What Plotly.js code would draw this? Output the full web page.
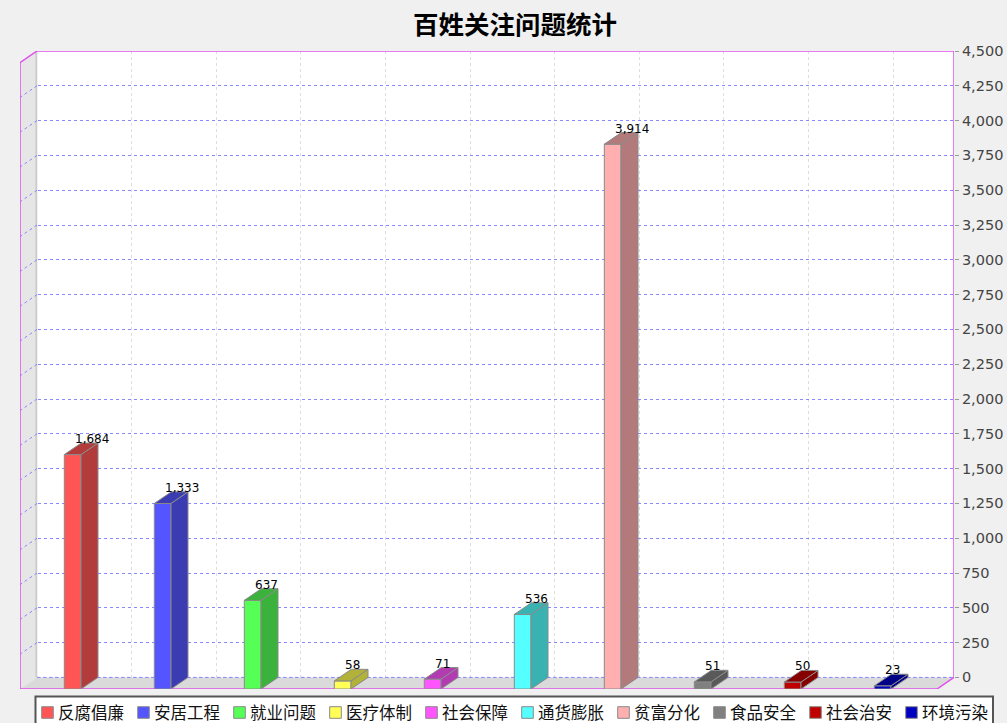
<!DOCTYPE html>
<html><head><meta charset="utf-8">
<script src="https://cdn.plot.ly/plotly-3.0.1.min.js"></script>
<style>html,body{margin:0;padding:0;background:#f0f0f0;}#chart{width:1007px;height:723px;}</style>
</head><body><div id="chart"></div>
<script>
// ---------- data ----------
const categories = ['反腐倡廉','安居工程','就业问题','医疗体制','社会保障','通货膨胀','贫富分化','食品安全','社会治安','环境污染'];
const values = [1684, 1333, 637, 58, 71, 536, 3914, 51, 50, 23];
const frontColors = ['#ff5555','#5555ff','#55ff55','#ffff55','#ff55ff','#55ffff','#ffafaf','#808080','#c00000','#0000c0'];
const sideColors  = ['#b23b3b','#3b3bb2','#3bb23b','#b2b23b','#b23bb2','#3bb2b2','#b27a7a','#595959','#860000','#000086'];
const yTickVals = [0,250,500,750,1000,1250,1500,1750,2000,2250,2500,2750,3000,3250,3500,3750,4000,4250,4500];
const yTickText = yTickVals.map(v => v.toLocaleString('en-US'));
const chartTitle = '百姓关注问题统计';

// ---------- geometry ----------
const W = 1007, H = 723;
const M = {l: 20, r: 53, t: 51, b: 34};
const plotW = W - M.l - M.r, plotH = H - M.t - M.b;
const CAT_PX = 90, FIRST_PX = 52.65;
const xr0 = -FIRST_PX / CAT_PX, xr1 = xr0 + plotW / CAT_PX;
const DX_PX = 17, DY_PX = 11.6;
const YTOP = 4500;
const valPerPx = YTOP / (plotH - DY_PX);
const dY = DY_PX * valPerPx;
const YMAX = YTOP + dY;
const D = DX_PX / CAT_PX;
const BW = 16.7 / CAT_PX;
const px2x = px => (px - M.l) / plotW;
const py2y = py => (M.t + plotH - py) / plotH;

const paperBg = '#f0f0f0';
const outline = '#e050ec';
const gridBlue = '#8888ff';

// ---------- traces ----------
const traces = categories.map((c, i) => ({
  type: 'bar', name: c, x: [i], y: [values[i]], width: BW,
  marker: {color: frontColors[i], line: {color: '#8a8a8a', width: 1}},
  showlegend: false, hoverinfo: 'skip'
}));
traces.push({type: 'scatter', x: [0], y: [0], xaxis: 'x2', yaxis: 'y2', mode: 'markers',
  marker: {opacity: 0}, hoverinfo: 'skip', showlegend: false});

// ---------- shapes ----------
const shapes = [];
const poly = pts => 'M' + pts.map(p => p[0] + ',' + p[1]).join('L') + 'Z';
// left wall
shapes.push({type: 'path', layer: 'between', xref: 'x', yref: 'y',
  path: poly([[xr0, 0], [xr0, YTOP], [xr0 + D, YMAX], [xr0 + D, dY]]),
  fillcolor: '#e6e6e6', line: {width: 0}});
shapes.push({type: 'line', layer: 'between', xref: 'x', yref: 'y',
  x0: xr0 + D - 0.008, x1: xr0 + D - 0.008, y0: dY, y1: YMAX, line: {color: '#cdcdcd', width: 2}});
// floor
shapes.push({type: 'path', layer: 'between', xref: 'x', yref: 'y',
  path: poly([[xr0, 0], [xr0 + D, dY], [xr1, dY], [xr1 - D, 0]]),
  fillcolor: '#dadada', line: {width: 0}});
// wall gridlines (diagonal)
yTickVals.forEach(v => {
  if (v === 0 || v === YTOP) return;
  shapes.push({type: 'line', layer: 'between', xref: 'x', yref: 'y',
    x0: xr0 + D, y0: v + dY, x1: xr0, y1: v, line: {color: gridBlue, width: 1, dash: '3px,3px'}});
});
shapes.push({type: 'line', layer: 'between', xref: 'x', yref: 'y',
  x0: xr0 + D, y0: dY, x1: xr1, y1: dY, line: {color: gridBlue, width: 1, dash: '3px,3px'}});
// corner triangles (background)
shapes.push({type: 'path', layer: 'between', xref: 'x', yref: 'y',
  path: poly([[xr0, YMAX], [xr0 + D, YMAX], [xr0, YTOP]]), fillcolor: paperBg, line: {width: 0}});
shapes.push({type: 'path', layer: 'between', xref: 'x', yref: 'y',
  path: poly([[xr1, 0], [xr1 - D, 0], [xr1, dY]]), fillcolor: paperBg, line: {width: 0}});
// outline
shapes.push({type: 'path', layer: 'between', xref: 'x', yref: 'y',
  path: poly([[xr0, 0], [xr0, YTOP], [xr0 + D, YMAX], [xr1, YMAX], [xr1, dY], [xr1 - D, 0]]),
  line: {color: outline, width: 1.5}});
// bar side + top faces
values.forEach((v, i) => {
  const a = i - BW / 2, b = i + BW / 2;
  shapes.push({type: 'path', layer: 'above', xref: 'x', yref: 'y',
    path: poly([[b, 0], [b + D, dY], [b + D, v + dY], [b, v]]),
    fillcolor: sideColors[i], line: {color: '#8a8a8a', width: 1}});
  shapes.push({type: 'path', layer: 'above', xref: 'x', yref: 'y',
    path: poly([[a, v], [b, v], [b + D, v + dY], [a + D, v + dY]]),
    fillcolor: sideColors[i], line: {color: '#8a8a8a', width: 1}});
});

// ---------- annotations (value labels) ----------
const annotations = values.map((v, i) => ({
  xref: 'x', yref: 'y', x: i + 0.005, y: v + dY,
  yanchor: 'bottom', xanchor: 'left', yshift: -5, showarrow: false,
  text: v.toLocaleString('en-US'),
  font: {family: 'DejaVu Sans', size: 12, color: '#000'}
}));

// ---------- custom legend ----------
const LEG_STEP = 96, LEG_X0 = 41.7, LEG_CY = 711.5, SW = 11.6;
shapes.push({type: 'rect', layer: 'above', xref: 'paper', yref: 'paper',
  x0: px2x(35.5), x1: px2x(993), y0: py2y(730), y1: py2y(696.5),
  fillcolor: '#ffffff', line: {color: '#555555', width: 2}});
categories.forEach((c, i) => {
  const x = LEG_X0 + i * LEG_STEP;
  shapes.push({type: 'rect', layer: 'above', xref: 'paper', yref: 'paper',
    x0: px2x(x), x1: px2x(x + SW), y0: py2y(LEG_CY + SW / 2 + 1), y1: py2y(LEG_CY - SW / 2 + 1),
    fillcolor: frontColors[i], line: {color: '#8a8a8a', width: 1}});
  annotations.push({xref: 'paper', yref: 'paper', x: px2x(x + SW + 3), y: py2y(LEG_CY),
    xanchor: 'left', yanchor: 'middle', showarrow: false, text: c,
    font: {family: 'Noto Sans CJK SC', size: 16.5, color: '#111'}});
});

const layout = {
  width: W, height: H,
  margin: M,
  paper_bgcolor: paperBg, plot_bgcolor: '#ffffff',
  showlegend: false, barmode: 'overlay',
  title: {text: chartTitle, x: 515 / W, xref: 'container', xanchor: 'center',
    y: 1 - 25 / H, yref: 'container', yanchor: 'middle',
    font: {family: 'Noto Sans CJK SC', size: 25.5, color: '#000', weight: 'bold'}},
  xaxis: {range: [xr0, xr1], showgrid: false, zeroline: false, showticklabels: false, ticks: '', fixedrange: true},
  yaxis: {range: [0, YMAX], showgrid: false, zeroline: false, showticklabels: false, ticks: '', fixedrange: true},
  xaxis2: {overlaying: 'x', range: [0, plotW], tickvals: [0,1,2,3,4,5,6,7,8,9].map(k => 111.7 + k * 84.6),
    showticklabels: false, ticks: '', showgrid: true, gridcolor: '#dddddd', griddash: '3px,3px', gridwidth: 1, zeroline: false},
  yaxis2: {overlaying: 'y', side: 'right', range: [-dY, YTOP], tickvals: yTickVals, ticktext: yTickText,
    ticks: 'outside', ticklen: 4, tickcolor: '#999', showgrid: true, gridcolor: gridBlue, griddash: '3px,3px',
    gridwidth: 1, zeroline: false, showline: false,
    tickfont: {family: 'DejaVu Sans', size: 14.5, color: '#444'}},
  shapes: shapes,
  annotations: annotations
};

Plotly.newPlot('chart', traces, layout, {staticPlot: true, displayModeBar: false});
</script>
</body></html>
